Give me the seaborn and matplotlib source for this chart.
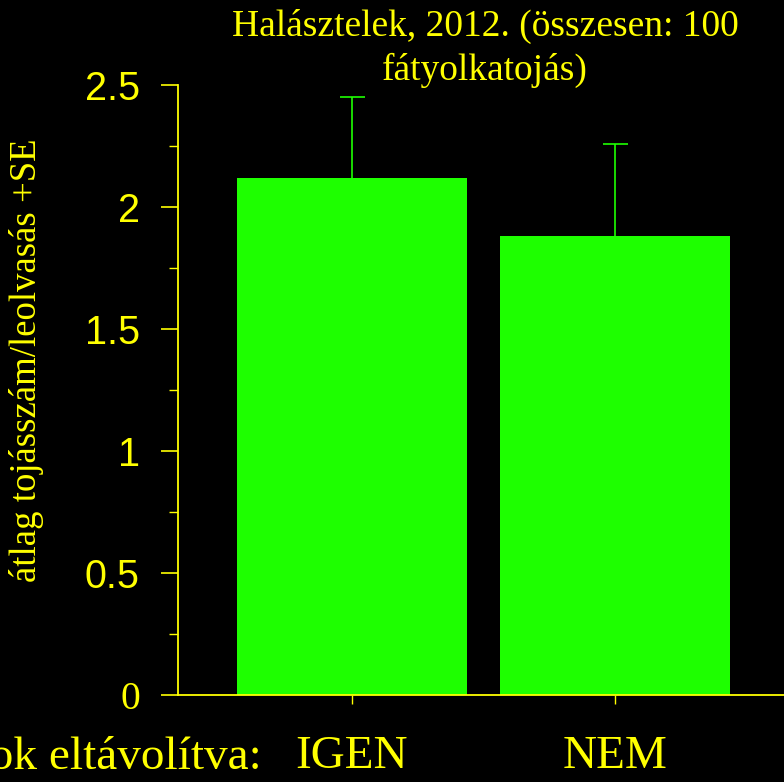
import numpy as np
import pandas as pd
import matplotlib
matplotlib.use('Agg')
import matplotlib.pyplot as plt
import seaborn as sns
from matplotlib.ticker import MultipleLocator

# data
categories = ['IGEN', 'NEM']
means = [2.12, 1.88]
se = [0.33, 0.38]
yticks = [0, 0.5, 1, 1.5, 2, 2.5]
ytick_labels = ['0', '0.5', '1', '1.5', '2', '2.5']

title_line1 = 'Halásztelek, 2012. (összesen: 100'
title_line2 = 'fátyolkatojás)'
ylabel = 'átlag tojásszám/leolvasás +SE'
xprefix = 'Tojások eltávolítva:'

green = '#1EFF00'
yellow = '#FFFF00'
serif = 'Liberation Serif'
sans = 'Liberation Sans'

sns.set_style('dark')
plt.rcParams['font.family'] = [serif, 'DejaVu Serif']

W, H = 784, 782
fig = plt.figure(figsize=(W / 100, H / 100), dpi=100, facecolor='black')
ax = fig.add_axes([178 / W, (H - 695) / H, (W - 178) / W, 610 / H])
ax.set_facecolor('black')

df = pd.DataFrame({'cat': categories, 'mean': means})
sns.barplot(data=df, x='cat', y='mean', color=green, saturation=1,
            width=0.875, errorbar=None, ax=ax, edgecolor='none')
# only the upper (+SE) half of the error bar
eb = ax.errorbar(np.arange(len(categories)), means, yerr=[[0] * len(se), se],
                 fmt='none', ecolor=green, elinewidth=1.2, capsize=9, capthick=1.2)
eb[1][0].set_visible(False)

ax.set_xlim(-0.662, 1.643)
ax.set_ylim(0, 2.5)
ax.set_xlabel('')
ax.set_ylabel('')
ax.grid(False)

for s in ['top', 'right']:
    ax.spines[s].set_visible(False)
for s in ['left', 'bottom']:
    ax.spines[s].set_visible(True)
    ax.spines[s].set_color(yellow)
    ax.spines[s].set_linewidth(1.3)

ax.set_yticks(yticks)
ax.set_yticklabels(ytick_labels, fontfamily=sans, fontsize=28.5, color=yellow)
ax.get_yticklabels()[0].set_fontfamily(serif)
ax.yaxis.set_minor_locator(MultipleLocator(0.25))
ax.tick_params(axis='y', which='major', direction='out', length=12.5, width=1.2,
               color=yellow, pad=15, left=True)
ax.tick_params(axis='y', which='minor', direction='out', length=6.5, width=1.0,
               color=yellow, left=True)
ax.tick_params(axis='x', which='major', direction='out', length=6.5, width=1.0,
               color=yellow, pad=23, bottom=True)
ax.set_xticks(range(len(categories)))
ax.set_xticklabels(categories, fontfamily=serif, fontsize=34, color=yellow)

fig.text(485 / W, 1 - 36 / H, title_line1, ha='center', va='baseline',
         fontsize=27, color=yellow, fontfamily=serif)
fig.text(485 / W, 1 - 80 / H, title_line2, ha='center', va='baseline',
         fontsize=27, color=yellow, fontfamily=serif)
fig.text(27 / W, 1 - 360 / H, ylabel, rotation=90, ha='center', va='center',
         fontsize=26.5, color=yellow, fontfamily=serif)
fig.text(262 / W, 1 - 769 / H, xprefix, ha='right', va='baseline',
         fontsize=34, color=yellow, fontfamily=serif)

fig.savefig('out.png', dpi=100, facecolor='black')
